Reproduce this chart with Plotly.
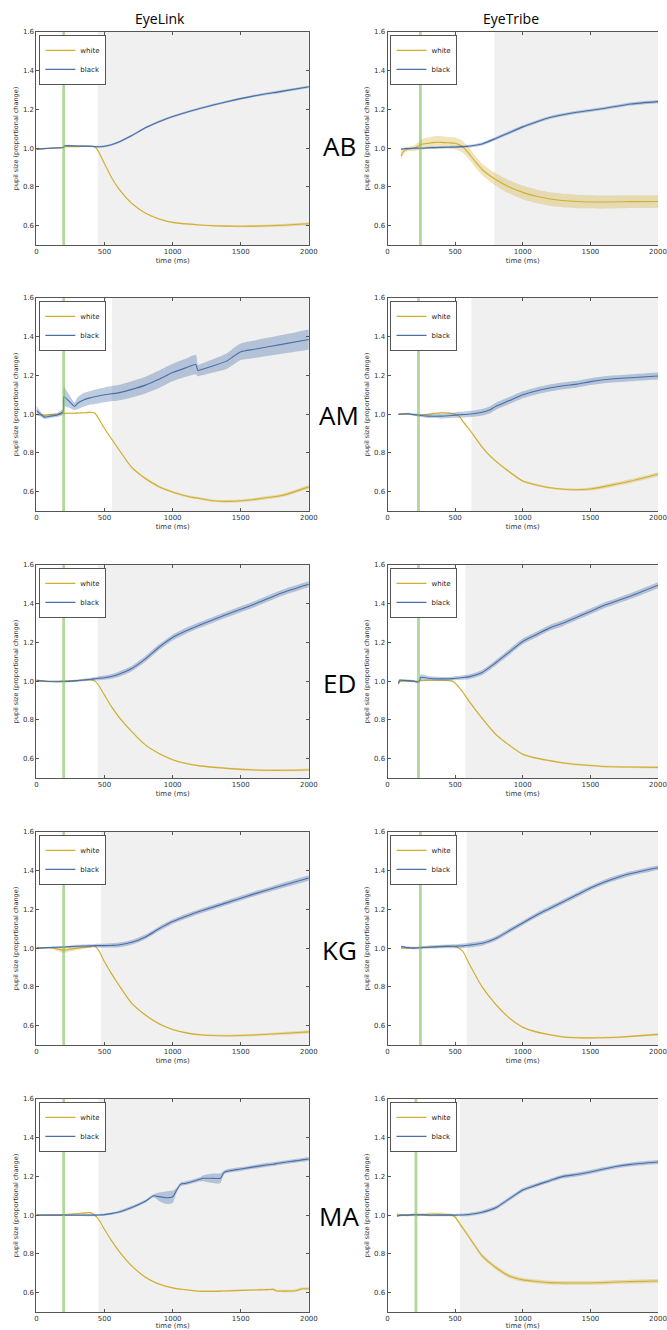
import plotly.graph_objects as go

# ---------------- data ----------------
subjects = ["AB", "AM", "ED", "KG", "MA"]
trackers = ["EyeLink", "EyeTribe"]

# window start of gray shading and stimulus marker (ms) per panel
EL_gray_start = [450, 555, 450, 475, 455]
ET_gray_start = [790, 620, 575, 586, 535]
EL_marker = [200, 200, 200, 200, 200]
ET_marker = [243, 229, 229, 243, 210]

x_ticks = [0, 500, 1000, 1500, 2000]
y_ticks = [0.6, 0.8, 1.0, 1.2, 1.4, 1.6]
y_tick_text = ["0.6", "0.8", "1.0", "1.2", "1.4", "1.6"]

# ---- AB EyeLink ----
AB_EL_t = [0, 100, 200, 205, 300, 400, 430, 450, 500, 550, 600, 700, 800, 900, 1000, 1200, 1400, 1600, 1800, 2000]
AB_EL_white = [0.995, 1.0, 1.005, 1.007, 1.008, 1.01, 1.006, 0.99, 0.92, 0.85, 0.795, 0.715, 0.665, 0.635, 0.617, 0.604, 0.598, 0.598, 0.602, 0.61]
AB_EL_white_ci = [0.003, 0.003, 0.003, 0.003, 0.003, 0.003, 0.003, 0.003, 0.003, 0.003, 0.003, 0.003, 0.004, 0.004, 0.004, 0.004, 0.005, 0.006, 0.007, 0.008]
AB_EL_black = [0.995, 1.0, 1.004, 1.012, 1.011, 1.01, 1.008, 1.007, 1.01, 1.018, 1.03, 1.065, 1.105, 1.137, 1.163, 1.205, 1.24, 1.27, 1.293, 1.317]
AB_EL_black_ci = [0.004, 0.004, 0.004, 0.005, 0.005, 0.005, 0.005, 0.005, 0.005, 0.005, 0.006, 0.006, 0.006, 0.006, 0.006, 0.006, 0.006, 0.006, 0.007, 0.007]

# ---- AB EyeTribe ----
AB_ET_t = [100, 120, 150, 200, 250, 300, 350, 400, 450, 500, 550, 600, 650, 700, 800, 900, 1000, 1100, 1200, 1400, 1600, 1800, 2000]
AB_ET_white = [0.96, 0.985, 0.995, 1.0, 1.02, 1.025, 1.03, 1.03, 1.028, 1.025, 1.01, 0.975, 0.93, 0.89, 0.838, 0.8, 0.772, 0.752, 0.738, 0.725, 0.722, 0.724, 0.725]
AB_ET_white_ci = [0.025, 0.015, 0.01, 0.015, 0.025, 0.03, 0.032, 0.032, 0.03, 0.03, 0.03, 0.03, 0.03, 0.03, 0.032, 0.034, 0.035, 0.035, 0.035, 0.035, 0.034, 0.033, 0.032]
AB_ET_black = [0.995, 0.997, 0.998, 1.0, 1.0, 1.002, 1.003, 1.004, 1.005, 1.006, 1.008, 1.01, 1.015, 1.022, 1.05, 1.08, 1.11, 1.135, 1.158, 1.185, 1.205, 1.228, 1.24]
AB_ET_black_ci = [0.005, 0.005, 0.005, 0.006, 0.006, 0.006, 0.006, 0.006, 0.006, 0.006, 0.007, 0.007, 0.007, 0.008, 0.008, 0.008, 0.008, 0.008, 0.008, 0.008, 0.008, 0.008, 0.008]

# ---- AM EyeLink ----
AM_EL_t = [0, 30, 60, 100, 150, 190, 199, 201, 250, 280, 300, 350, 400, 430, 500, 600, 700, 800, 900, 1000, 1100, 1170, 1185, 1200, 1300, 1400, 1450, 1500, 1600, 1800, 2000]
AM_EL_white = [1.0, 0.997, 0.995, 0.998, 1.0, 1.003, 1.004, 1.004, 1.005, 1.005, 1.006, 1.007, 1.01, 1.005, 0.926, 0.823, 0.725, 0.668, 0.626, 0.598, 0.578, 0.568, 0.567, 0.565, 0.553, 0.55, 0.551, 0.553, 0.56, 0.58, 0.625]
AM_EL_white_ci = [0.004, 0.004, 0.004, 0.004, 0.004, 0.004, 0.004, 0.004, 0.004, 0.004, 0.004, 0.004, 0.004, 0.004, 0.004, 0.005, 0.005, 0.006, 0.006, 0.006, 0.006, 0.006, 0.006, 0.006, 0.006, 0.007, 0.007, 0.007, 0.008, 0.009, 0.01]
AM_EL_black = [1.02, 1.0, 0.985, 0.99, 0.995, 1.01, 1.02, 1.09, 1.06, 1.04, 1.055, 1.075, 1.085, 1.09, 1.1, 1.11, 1.128, 1.15, 1.18, 1.215, 1.24, 1.256, 1.225, 1.228, 1.25, 1.275, 1.3, 1.322, 1.335, 1.36, 1.385]
AM_EL_black_ci = [0.025, 0.012, 0.01, 0.01, 0.01, 0.015, 0.015, 0.05, 0.03, 0.02, 0.03, 0.035, 0.035, 0.037, 0.038, 0.04, 0.042, 0.043, 0.045, 0.045, 0.047, 0.05, 0.03, 0.03, 0.035, 0.04, 0.043, 0.043, 0.045, 0.048, 0.052]

# ---- AM EyeTribe ----
AM_ET_t = [80, 150, 200, 250, 300, 400, 450, 500, 530, 560, 600, 700, 750, 800, 900, 1000, 1100, 1200, 1300, 1400, 1500, 1600, 1800, 2000]
AM_ET_white = [1.0, 1.0, 0.998, 0.995, 1.0, 1.007, 1.006, 1.0, 0.99, 0.96, 0.926, 0.83, 0.79, 0.758, 0.703, 0.655, 0.635, 0.62, 0.613, 0.61, 0.614, 0.626, 0.655, 0.69]
AM_ET_white_ci = [0.004, 0.004, 0.004, 0.005, 0.005, 0.005, 0.005, 0.005, 0.005, 0.005, 0.005, 0.005, 0.005, 0.005, 0.005, 0.006, 0.006, 0.006, 0.006, 0.007, 0.008, 0.009, 0.01, 0.012]
AM_ET_black = [1.0, 1.002, 0.997, 0.993, 0.99, 0.99, 0.992, 0.995, 0.997, 0.998, 1.0, 1.01, 1.02, 1.04, 1.07, 1.1, 1.12, 1.135, 1.147, 1.155, 1.168, 1.178, 1.188, 1.197]
AM_ET_black_ci = [0.004, 0.005, 0.006, 0.008, 0.01, 0.012, 0.013, 0.014, 0.015, 0.015, 0.016, 0.017, 0.018, 0.018, 0.018, 0.018, 0.018, 0.018, 0.018, 0.018, 0.018, 0.018, 0.018, 0.018]

# ---- ED EyeLink ----
ED_EL_t = [0, 100, 200, 300, 400, 430, 460, 500, 550, 600, 700, 800, 900, 1000, 1100, 1200, 1400, 1600, 1800, 2000]
ED_EL_white = [1.0, 0.999, 1.0, 1.003, 1.008, 1.0, 0.975, 0.928, 0.87, 0.82, 0.74, 0.671, 0.627, 0.595, 0.575, 0.563, 0.55, 0.542, 0.54, 0.543]
ED_EL_white_ci = [0.003, 0.003, 0.003, 0.003, 0.003, 0.003, 0.003, 0.004, 0.004, 0.004, 0.004, 0.004, 0.004, 0.004, 0.004, 0.004, 0.004, 0.005, 0.005, 0.006]
ED_EL_black = [1.005, 0.998, 0.998, 1.003, 1.01, 1.012, 1.015, 1.018, 1.024, 1.034, 1.065, 1.115, 1.175, 1.225, 1.26, 1.29, 1.345, 1.397, 1.455, 1.5]
ED_EL_black_ci = [0.005, 0.004, 0.005, 0.006, 0.008, 0.009, 0.01, 0.011, 0.012, 0.013, 0.014, 0.015, 0.015, 0.015, 0.015, 0.015, 0.015, 0.015, 0.015, 0.015]

# ---- ED EyeTribe ----
ED_ET_t = [80, 90, 100, 150, 200, 220, 235, 245, 300, 400, 480, 500, 550, 600, 700, 800, 900, 1000, 1100, 1200, 1300, 1400, 1500, 1600, 1800, 2000]
ED_ET_white = [0.985, 0.998, 1.0, 1.0, 0.998, 1.0, 1.002, 1.003, 1.005, 1.005, 1.0, 0.99, 0.95, 0.9, 0.808, 0.726, 0.67, 0.623, 0.603, 0.59, 0.578, 0.57, 0.565, 0.56, 0.557, 0.555]
ED_ET_white_ci = [0.015, 0.006, 0.004, 0.004, 0.004, 0.004, 0.004, 0.004, 0.004, 0.004, 0.004, 0.004, 0.004, 0.004, 0.005, 0.005, 0.005, 0.005, 0.005, 0.005, 0.005, 0.005, 0.005, 0.005, 0.005, 0.005]
ED_ET_black = [0.99, 1.005, 1.005, 1.003, 1.0, 0.995, 1.0, 1.02, 1.015, 1.012, 1.013, 1.015, 1.018, 1.022, 1.045, 1.095, 1.15, 1.205, 1.24, 1.275, 1.3, 1.33, 1.36, 1.39, 1.44, 1.495]
ED_ET_black_ci = [0.015, 0.008, 0.006, 0.006, 0.006, 0.006, 0.01, 0.015, 0.012, 0.01, 0.01, 0.01, 0.011, 0.012, 0.013, 0.014, 0.015, 0.015, 0.015, 0.015, 0.015, 0.015, 0.015, 0.015, 0.015, 0.015]

# ---- KG EyeLink ----
KG_EL_t = [0, 100, 200, 250, 300, 400, 430, 460, 500, 550, 600, 700, 800, 900, 1000, 1100, 1200, 1400, 1600, 1800, 2000]
KG_EL_white = [1.0, 1.003, 0.99, 0.995, 1.0, 1.008, 1.01, 0.985, 0.93, 0.87, 0.815, 0.715, 0.655, 0.61, 0.58, 0.563, 0.553, 0.548, 0.552, 0.56, 0.568]
KG_EL_white_ci = [0.003, 0.004, 0.015, 0.012, 0.01, 0.005, 0.004, 0.004, 0.004, 0.004, 0.004, 0.004, 0.004, 0.004, 0.004, 0.004, 0.005, 0.005, 0.006, 0.007, 0.008]
KG_EL_black = [1.0, 1.003, 1.006, 1.008, 1.01, 1.012, 1.013, 1.013, 1.013, 1.014, 1.016, 1.03, 1.058, 1.1, 1.137, 1.165, 1.19, 1.235, 1.28, 1.322, 1.362]
KG_EL_black_ci = [0.003, 0.004, 0.005, 0.006, 0.007, 0.008, 0.009, 0.01, 0.01, 0.011, 0.012, 0.012, 0.012, 0.012, 0.012, 0.012, 0.012, 0.012, 0.012, 0.013, 0.014]

# ---- KG EyeTribe ----
KG_ET_t = [100, 150, 200, 250, 300, 400, 500, 530, 560, 600, 700, 800, 900, 1000, 1100, 1200, 1300, 1400, 1500, 1600, 1700, 1800, 2000]
KG_ET_white = [1.0, 1.0, 1.003, 1.005, 1.005, 1.01, 1.008, 1.0, 0.98, 0.925, 0.8, 0.71, 0.64, 0.592, 0.568, 0.553, 0.542, 0.538, 0.537, 0.538, 0.54, 0.545, 0.555]
KG_ET_white_ci = [0.004, 0.004, 0.004, 0.004, 0.004, 0.004, 0.004, 0.004, 0.004, 0.004, 0.004, 0.004, 0.004, 0.004, 0.005, 0.005, 0.005, 0.005, 0.005, 0.005, 0.005, 0.005, 0.006]
KG_ET_black = [1.008, 1.003, 1.0, 1.003, 1.005, 1.008, 1.01, 1.011, 1.012, 1.015, 1.025, 1.05, 1.09, 1.13, 1.17, 1.205, 1.24, 1.275, 1.31, 1.34, 1.365, 1.385, 1.415]
KG_ET_black_ci = [0.005, 0.005, 0.006, 0.007, 0.008, 0.009, 0.01, 0.011, 0.012, 0.012, 0.012, 0.012, 0.012, 0.012, 0.012, 0.012, 0.012, 0.012, 0.012, 0.012, 0.012, 0.012, 0.012]

# ---- MA EyeLink ----
MA_EL_t = [0, 200, 300, 390, 420, 460, 500, 550, 600, 700, 800, 860, 900, 950, 1000, 1030, 1060, 1100, 1200, 1220, 1300, 1350, 1380, 1500, 1700, 1740, 1760, 1900, 1950, 2000]
MA_EL_white = [1.0, 1.003, 1.008, 1.013, 1.005, 0.975, 0.926, 0.87, 0.82, 0.738, 0.68, 0.657, 0.645, 0.633, 0.625, 0.621, 0.618, 0.615, 0.607, 0.607, 0.607, 0.608, 0.609, 0.612, 0.616, 0.617, 0.61, 0.61, 0.62, 0.62]
MA_EL_white_ci = [0.003, 0.003, 0.003, 0.003, 0.003, 0.003, 0.003, 0.003, 0.003, 0.003, 0.004, 0.004, 0.004, 0.004, 0.004, 0.004, 0.004, 0.004, 0.004, 0.004, 0.004, 0.004, 0.004, 0.004, 0.005, 0.006, 0.007, 0.007, 0.007, 0.008]
MA_EL_black = [1.0, 1.0, 1.0, 1.0, 1.0, 1.001, 1.003, 1.008, 1.015, 1.04, 1.072, 1.1, 1.095, 1.09, 1.095, 1.13, 1.16, 1.165, 1.185, 1.19, 1.19, 1.19, 1.222, 1.238, 1.26, 1.263, 1.266, 1.28, 1.285, 1.29]
MA_EL_black_ci = [0.003, 0.004, 0.004, 0.005, 0.005, 0.005, 0.006, 0.006, 0.007, 0.008, 0.008, 0.008, 0.022, 0.032, 0.032, 0.012, 0.01, 0.01, 0.01, 0.015, 0.025, 0.025, 0.01, 0.01, 0.01, 0.01, 0.01, 0.01, 0.01, 0.01]

# ---- MA EyeTribe ----
MA_ET_t = [70, 100, 150, 200, 300, 400, 480, 500, 550, 600, 700, 800, 900, 1000, 1100, 1200, 1300, 1400, 1500, 1600, 1700, 1800, 2000]
MA_ET_white = [1.005, 1.0, 1.0, 1.0, 1.005, 1.005, 1.0, 0.99, 0.94, 0.89, 0.79, 0.73, 0.686, 0.666, 0.658, 0.652, 0.65, 0.65, 0.65, 0.652, 0.655, 0.657, 0.66]
MA_ET_white_ci = [0.006, 0.006, 0.006, 0.006, 0.008, 0.008, 0.008, 0.008, 0.008, 0.009, 0.01, 0.01, 0.01, 0.01, 0.01, 0.01, 0.01, 0.01, 0.01, 0.01, 0.01, 0.01, 0.01]
MA_ET_black = [0.995, 1.0, 1.0, 1.003, 1.0, 1.0, 1.0, 1.0, 1.001, 1.003, 1.015, 1.038, 1.084, 1.13, 1.155, 1.178, 1.2, 1.21, 1.223, 1.238, 1.252, 1.262, 1.274]
MA_ET_black_ci = [0.005, 0.005, 0.005, 0.005, 0.005, 0.005, 0.006, 0.006, 0.007, 0.008, 0.009, 0.01, 0.01, 0.01, 0.01, 0.01, 0.01, 0.01, 0.01, 0.01, 0.01, 0.01, 0.01]

panels = [
    (AB_EL_t, AB_EL_white, AB_EL_white_ci, AB_EL_black, AB_EL_black_ci),
    (AB_ET_t, AB_ET_white, AB_ET_white_ci, AB_ET_black, AB_ET_black_ci),
    (AM_EL_t, AM_EL_white, AM_EL_white_ci, AM_EL_black, AM_EL_black_ci),
    (AM_ET_t, AM_ET_white, AM_ET_white_ci, AM_ET_black, AM_ET_black_ci),
    (ED_EL_t, ED_EL_white, ED_EL_white_ci, ED_EL_black, ED_EL_black_ci),
    (ED_ET_t, ED_ET_white, ED_ET_white_ci, ED_ET_black, ED_ET_black_ci),
    (KG_EL_t, KG_EL_white, KG_EL_white_ci, KG_EL_black, KG_EL_black_ci),
    (KG_ET_t, KG_ET_white, KG_ET_white_ci, KG_ET_black, KG_ET_black_ci),
    (MA_EL_t, MA_EL_white, MA_EL_white_ci, MA_EL_black, MA_EL_black_ci),
    (MA_ET_t, MA_ET_white, MA_ET_white_ci, MA_ET_black, MA_ET_black_ci),
]

# ---------------- layout constants ----------------
W, H = 667, 1330
col_px = [(35, 312), (392, 667)]
row_px = [(28, 242), (295, 509), (563, 777), (831, 1045), (1099, 1313)]
row_label_y = [143, 413, 682, 950, 1217]
row_label_x = 343

WHITE_LINE = "#d2ae2e"
WHITE_FILL = "rgba(205,172,45,0.32)"
BLACK_LINE = "#4a6fa8"
BLACK_FILL = "rgba(76,114,176,0.36)"
GRAY = "#f0f0f0"
GREEN = "rgba(125,190,90,0.6)"
AX = "#555555"
TICKFONT = dict(family="DejaVu Sans", size=7, color="#333333")

fig = go.Figure()
layout = dict(
    width=W, height=H, margin=dict(l=0, r=0, t=0, b=0),
    paper_bgcolor="white", plot_bgcolor="white", showlegend=True,
)
shapes = []
annotations = []

for r in range(5):
    for c in range(2):
        k = r * 2 + c + 1
        sfx = "" if k == 1 else str(k)
        xa, ya = "x" + sfx, "y" + sfx
        lg = "legend" if k == 1 else "legend" + str(k)
        t, wm, wci, bm, bci = panels[k - 1]

        for mean, ci, line_col, fill_col, name in (
            (wm, wci, WHITE_LINE, WHITE_FILL, "white"),
            (bm, bci, BLACK_LINE, BLACK_FILL, "black"),
        ):
            lo = [m - e for m, e in zip(mean, ci)]
            hi = [m + e for m, e in zip(mean, ci)]
            fig.add_trace(go.Scatter(x=t, y=lo, xaxis=xa, yaxis=ya, mode="lines",
                                     line=dict(width=0, shape="spline", smoothing=0.6),
                                     showlegend=False, hoverinfo="skip"))
            fig.add_trace(go.Scatter(x=t, y=hi, xaxis=xa, yaxis=ya, mode="lines",
                                     line=dict(width=0, shape="spline", smoothing=0.6),
                                     fill="tonexty", fillcolor=fill_col,
                                     showlegend=False, hoverinfo="skip"))
            fig.add_trace(go.Scatter(x=t, y=mean, xaxis=xa, yaxis=ya, mode="lines",
                                     line=dict(width=1.1, color=line_col, shape="spline", smoothing=0.6),
                                     name=name, legend=lg, showlegend=True))

        x0p, x1p = col_px[c]
        y0p, y1p = row_px[r]
        xdom = [x0p / W, min(1.0, x1p / W)]
        ydom = [1 - y1p / H, 1 - y0p / H]
        right_col = (c == 1)
        layout["xaxis" + sfx] = dict(
            domain=xdom, anchor=ya, range=[0, 2000], tickvals=x_ticks,
            ticks="inside", ticklen=3, tickcolor=AX, showline=True, linecolor=AX,
            linewidth=1, mirror="ticks", showgrid=False, zeroline=False,
            tickfont=TICKFONT, title=dict(text="time (ms)", font=dict(family="DejaVu Sans", size=7, color="#333"), standoff=2),
        )
        layout["yaxis" + sfx] = dict(
            domain=ydom, anchor=xa, range=[0.5, 1.6], tickvals=y_ticks, ticktext=y_tick_text,
            ticks="inside", ticklen=3, tickcolor=AX, showline=True, linecolor=AX,
            linewidth=1, mirror=(False if right_col else "ticks"), showgrid=False, zeroline=False,
            tickfont=TICKFONT,
            title=dict(text="pupil size (proportional change)", font=dict(family="DejaVu Sans", size=6.5, color="#333"), standoff=3),
        )
        layout[lg] = dict(
            x=(x0p + 3) / W, y=1 - (y0p + 3) / H, xanchor="left", yanchor="top",
            bgcolor="white", bordercolor=AX, borderwidth=1, traceorder="normal",
            font=dict(family="DejaVu Sans", size=7, color="#222"),
            itemwidth=30, tracegroupgap=0,
        )

        gstart = (EL_gray_start if c == 0 else ET_gray_start)[r]
        mk = (EL_marker if c == 0 else ET_marker)[r]
        shapes.append(dict(type="rect", xref=xa, yref=ya + " domain", x0=gstart, x1=2000,
                           y0=0, y1=1, fillcolor=GRAY, line=dict(width=0), layer="below"))
        shapes.append(dict(type="line", xref=xa, yref=ya + " domain", x0=mk, x1=mk,
                           y0=0, y1=1, line=dict(color=GREEN, width=2.8), layer="above"))

    annotations.append(dict(text=subjects[r], x=row_label_x / W, y=1 - row_label_y[r] / H,
                            xref="paper", yref="paper", showarrow=False, xanchor="center", yanchor="middle",
                            font=dict(family="Open Sans", size=26, color="black")))

annotations.append(dict(text=trackers[0], x=161 / W, y=1 - 15 / H, xref="paper", yref="paper",
                        xanchor="center", yanchor="middle",
                        showarrow=False, font=dict(family="Open Sans", size=14, color="black")))
annotations.append(dict(text=trackers[1], x=518 / W, y=1 - 15 / H, xref="paper", yref="paper",
                        xanchor="center", yanchor="middle",
                        showarrow=False, font=dict(family="Open Sans", size=14, color="black")))

layout["shapes"] = shapes
layout["annotations"] = annotations
fig.update_layout(**layout)
fig.write_html("out.html")
